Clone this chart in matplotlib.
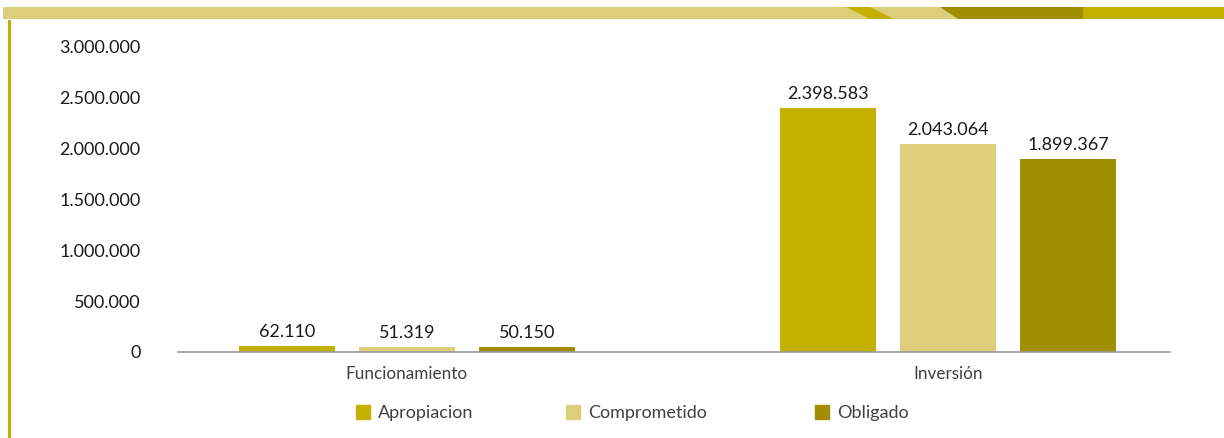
import numpy as np
import matplotlib.pyplot as plt
from matplotlib.patches import Rectangle, Polygon
from matplotlib.lines import Line2D

plt.rcParams['font.family'] = ['Lato', 'DejaVu Sans']

# Datos
categorias = ['Funcionamiento', 'Inversión']
series = ['Apropiacion', 'Comprometido', 'Obligado']
apropiacion = [62110, 2398583]
comprometido = [51319, 2043064]
obligado = [50150, 1899367]
colores = ['#C4B000', '#DDCE7C', '#9E8E00']
yticks = [0, 500000, 1000000, 1500000, 2000000, 2500000, 3000000]


def fmt(v):
    return f"{v:,.0f}".replace(',', '.')


W, H = 1224, 438
fig = plt.figure(figsize=(W / 100, H / 100), dpi=100)

# Banda decorativa superior
deco = fig.add_axes([0, 0, 1, 1], zorder=-1)
deco.set_xlim(0, W)
deco.set_ylim(H, 0)
deco.axis('off')
deco.add_patch(Rectangle((3, 7), W - 3, 12, color='#DDCE7C', lw=0))
deco.add_patch(Polygon([(846, 7), (870, 7), (894, 19), (870, 19)], color='#C4B000', lw=0))
deco.add_patch(Polygon([(940, 7), (1083, 7), (1083, 19), (958, 19)], color='#9E8E00', lw=0))
deco.add_patch(Rectangle((1083, 7), W - 1083, 12, color='#C4B000', lw=0))
deco.add_patch(Rectangle((8, 20), 2.5, H - 20, color='#C4B000', lw=0))

# Ejes del grafico
x0, x1 = 178, 1170
y0, y1 = 352, 47
ax = fig.add_axes([x0 / W, 1 - y0 / H, (x1 - x0) / W, (y0 - y1) / H])

x = np.arange(len(categorias))
paso = 0.222
ancho = 0.177
for i, (vals, col) in enumerate(zip([apropiacion, comprometido, obligado], colores)):
    pos = x + (i - 1) * paso
    ax.bar(pos, vals, width=ancho, color=col, label=series[i])
    for p, v in zip(pos, vals):
        ax.text(p, v + 60000, fmt(v), ha='center', va='bottom', fontsize=13, color='#1a1a1a')

ax.set_xlim(-0.423, 1.41)
ax.set_ylim(0, 3000000)
ax.set_yticks(yticks)
ax.set_yticklabels([fmt(v) for v in yticks], fontsize=13, color='#1a1a1a')
ax.set_xticks(x)
ax.set_xticklabels(categorias, fontsize=12.3, color='#404040')
ax.tick_params(axis='both', length=0)
ax.tick_params(axis='y', pad=27)
ax.tick_params(axis='x', pad=10)
for s in ['top', 'right', 'left']:
    ax.spines[s].set_visible(False)
ax.spines['bottom'].set_color('#999999')
ax.spines['bottom'].set_linewidth(1.2)
ax.patch.set_alpha(0)

# Leyenda (una entrada por serie, con posiciones fijas como en el original)
leg_x = [356, 566, 815]
for nombre, col, lx in zip(series, colores, leg_x):
    h = Line2D([], [], marker='s', ls='none', markersize=10, color=col)
    fig.legend([h], [nombre], loc='center left', bbox_to_anchor=(lx / W, 1 - 413 / H),
               frameon=False, fontsize=13, handlelength=0.8, handletextpad=0.4,
               borderpad=0, borderaxespad=0, labelcolor='#404040')

fig.savefig('out.png', dpi=100)
